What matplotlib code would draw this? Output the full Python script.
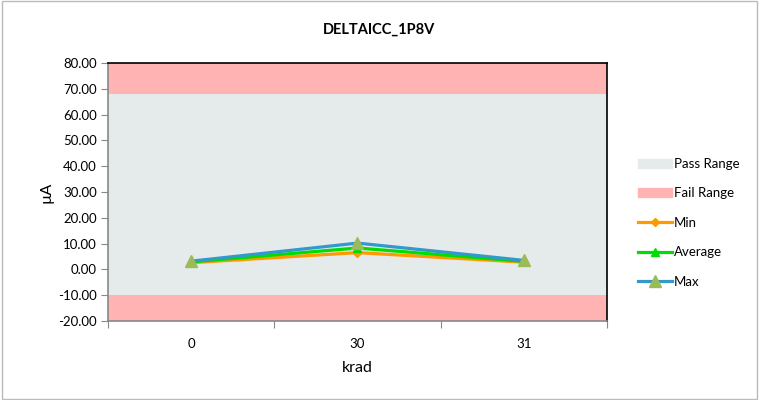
import numpy as np
import matplotlib.pyplot as plt
from matplotlib.patches import Patch
from matplotlib.lines import Line2D

plt.rcParams['font.family'] = ['Lato', 'DejaVu Sans']

categories = ['0', '30', '31']
min_vals = [2.6, 6.5, 2.8]
avg_vals = [2.9, 8.3, 3.1]
max_vals = [3.2, 10.2, 3.5]

pass_range = (-10.0, 68.0)
fail_low = (-20.0, -10.0)
fail_high = (68.0, 80.0)

fig = plt.figure(figsize=(7.59, 4.0), dpi=100)
ax = fig.add_axes([0.1423, 0.1975, 0.6574, 0.645])

pass_c = '#E5EBEB'
fail_c = '#FFB3B3'
ax.axhspan(*pass_range, color=pass_c, lw=0)
ax.axhspan(*fail_low, color=fail_c, lw=0)
ax.axhspan(*fail_high, color=fail_c, lw=0)

x = np.arange(len(categories))
ax.plot(x, min_vals, color='#FF9900', lw=2.3, marker='D', ms=4, zorder=3)
ax.plot(x, avg_vals, color='#00DD00', lw=2.3, marker='^', ms=6, zorder=4)
ax.plot(x, max_vals, color='#3399CC', lw=2.3, marker='^', ms=9,
        mfc='#9BBB59', mec='#9BBB59', zorder=5)

ax.set_xlim(-0.5, len(categories) - 0.5)
ax.set_ylim(-20, 80)
ax.set_yticks(np.arange(-20, 81, 10))
ax.set_yticklabels([f'{v:.2f}' for v in np.arange(-20, 81, 10)], fontsize=9.5)
ax.set_xticks(np.arange(-0.5, len(categories), 1.0))
ax.set_xticklabels([])
ax.set_xticks(x, minor=True)
ax.set_xticklabels(categories, minor=True, fontsize=9.5)
ax.tick_params(axis='x', which='minor', length=0, pad=12)
ax.tick_params(axis='x', which='major', length=5, color='#888888')
ax.tick_params(axis='y', length=5, color='#888888', direction='out', pad=3)

for s in ['left', 'bottom']:
    ax.spines[s].set_color('#888888')
    ax.spines[s].set_linewidth(1.2)
for s in ['top', 'right']:
    ax.spines[s].set_color('black')
    ax.spines[s].set_linewidth(1.2)

ax.set_xlabel('krad', fontsize=11.5, labelpad=8)
ax.set_ylabel('µA', fontsize=11.5, labelpad=3)
fig.text(0.5, 0.925, 'DELTAICC_1P8V', ha='center', va='center',
         fontsize=10.5, fontweight='bold')

handles = [
    Patch(color=pass_c, label='Pass Range'),
    Patch(color=fail_c, label='Fail Range'),
    Line2D([], [], color='#FF9900', lw=2.3, marker='D', ms=4, label='Min'),
    Line2D([], [], color='#00DD00', lw=2.3, marker='^', ms=6, label='Average'),
    Line2D([], [], color='#3399CC', lw=2.3, marker='^', ms=8,
           mfc='#9BBB59', mec='#9BBB59', label='Max'),
]
fig.legend(handles=handles, loc='upper left', bbox_to_anchor=(0.833, 0.618),
           frameon=False, fontsize=9.5, handlelength=2.6, labelspacing=1.32,
           handletextpad=0.15, borderaxespad=0)

fig.add_artist(plt.Rectangle((0.002, 0.003), 0.995, 0.994, fill=False,
                             ec='#BBBBBB', lw=1, transform=fig.transFigure))

fig.savefig('out.png', dpi=100)
